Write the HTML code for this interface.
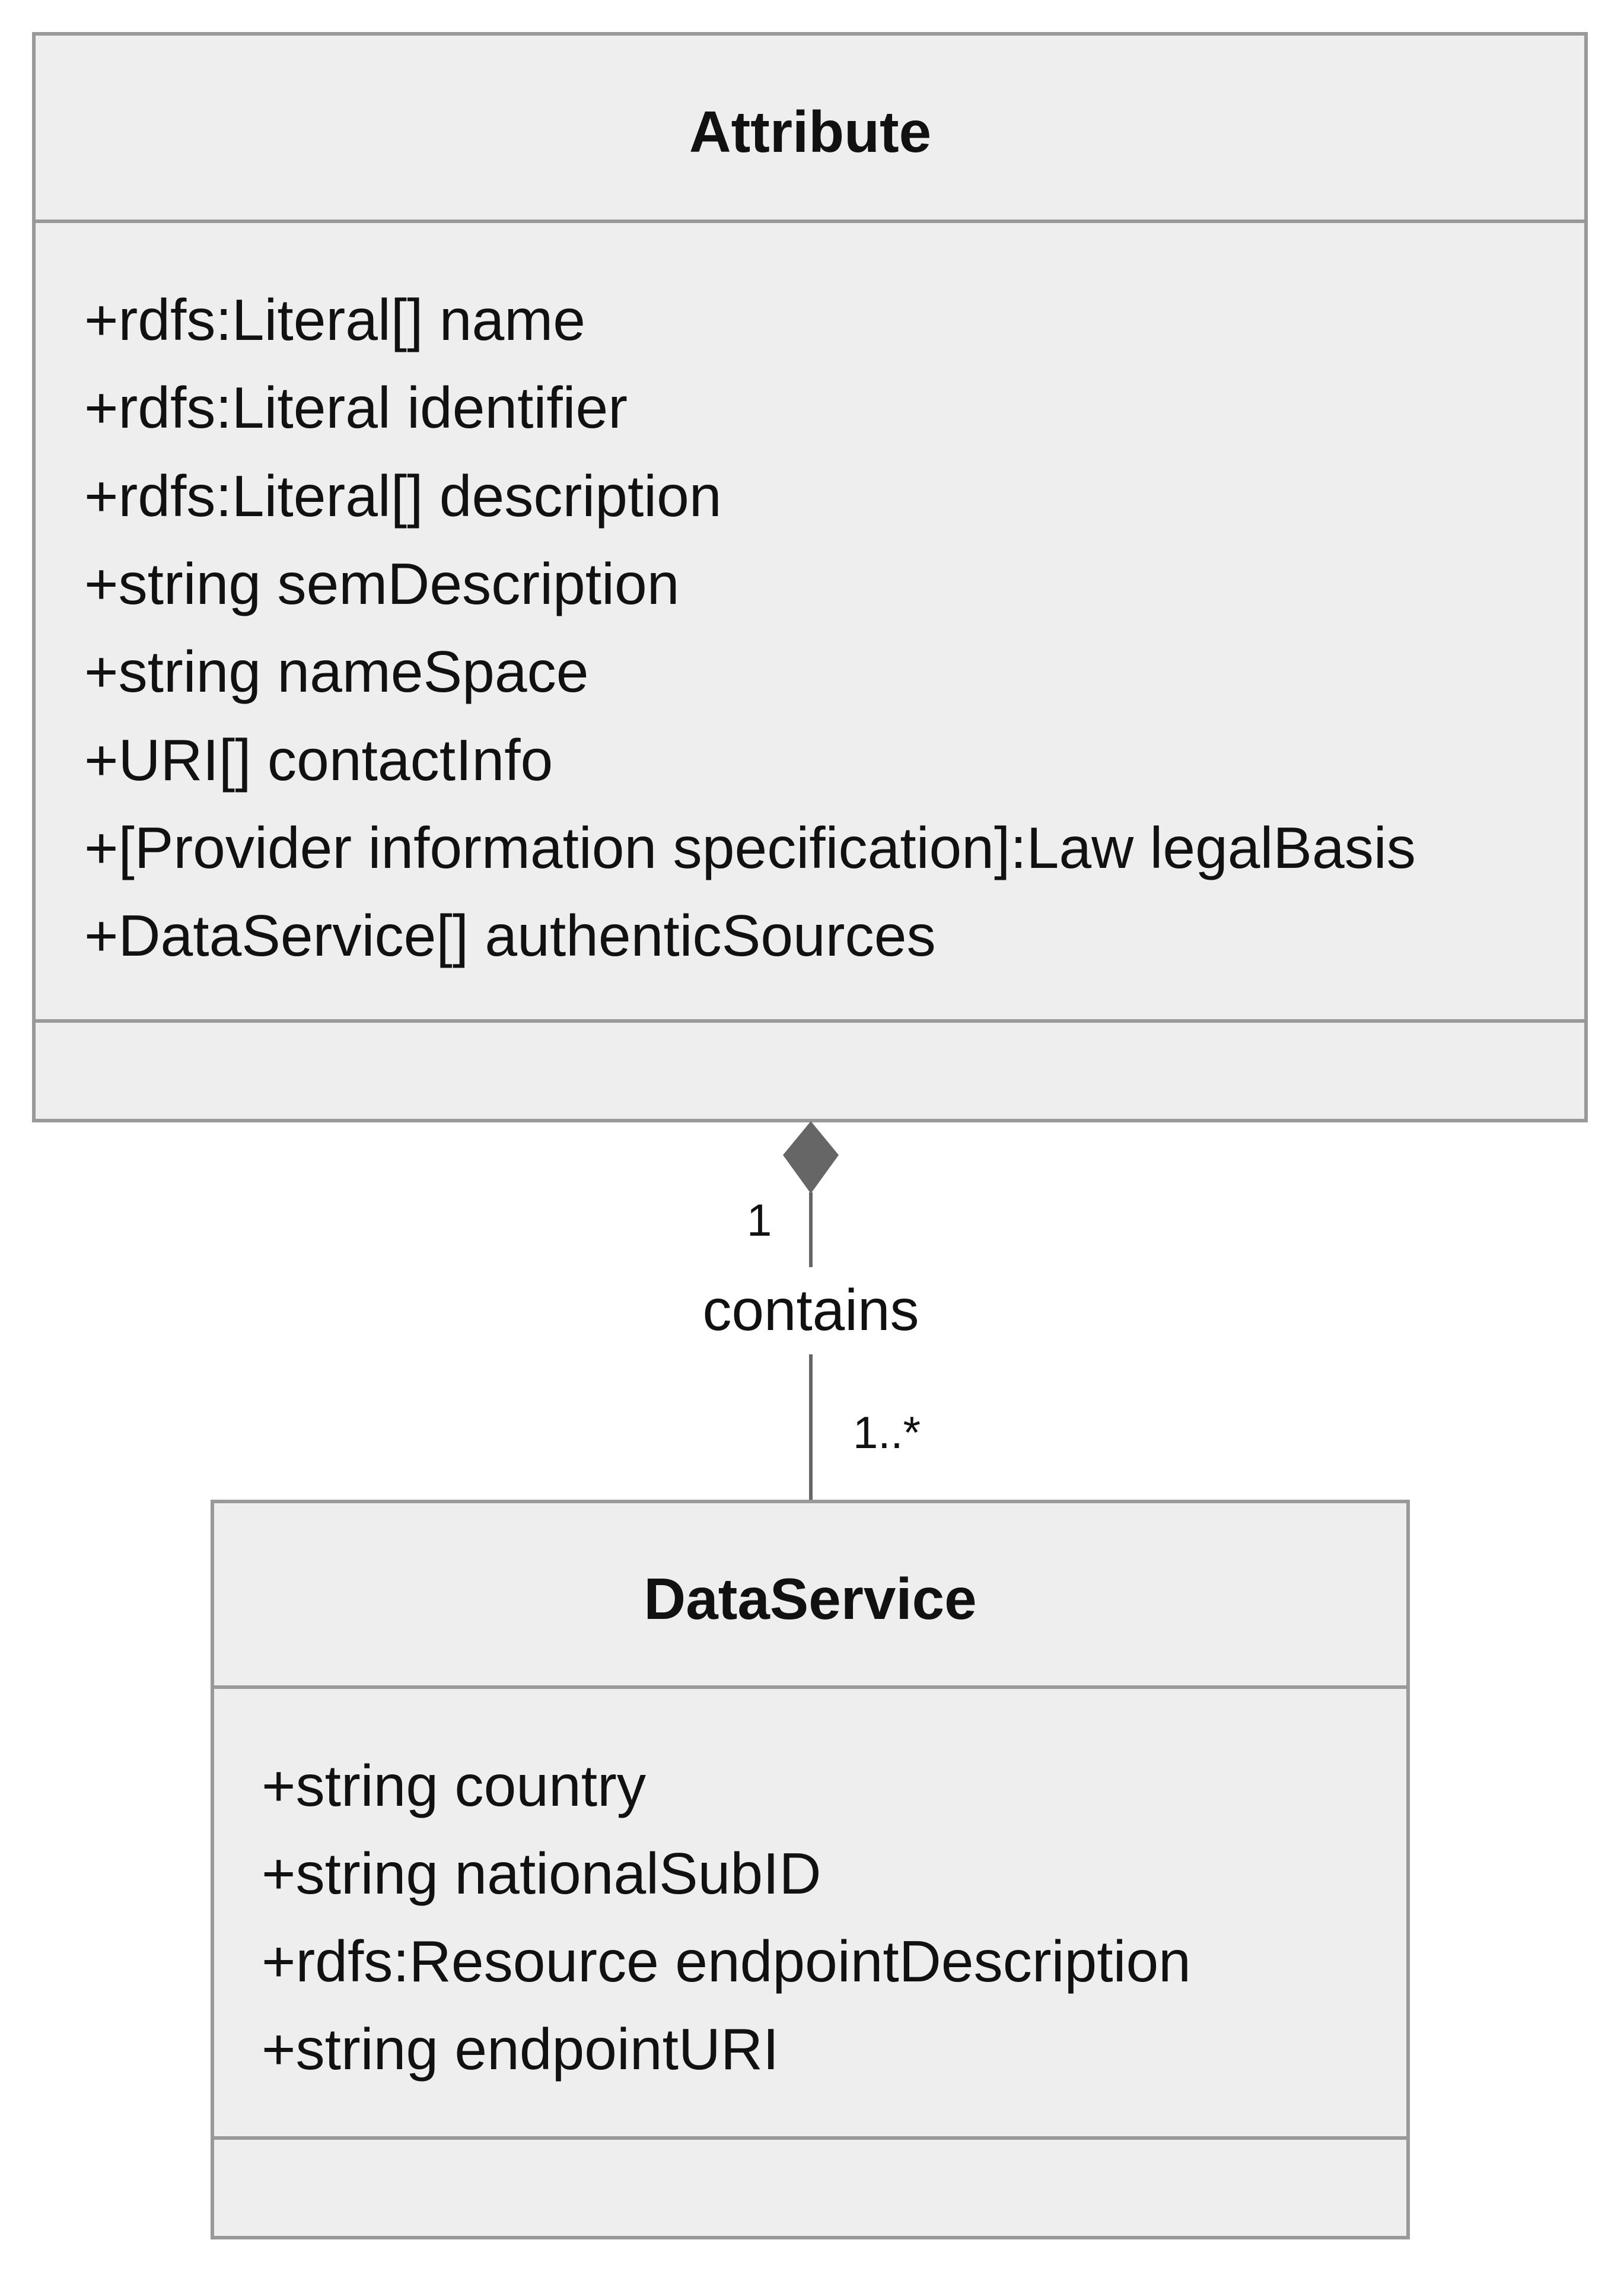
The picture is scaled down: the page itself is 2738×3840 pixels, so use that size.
<!DOCTYPE html>
<html><head><meta charset="utf-8"><style>
html,body{margin:0;padding:0;background:#fff;}
svg{display:block;}
text{font-family:"Liberation Sans",Arial,sans-serif;fill:#111;}
</style></head><body>
<svg width="2738" height="3840" viewBox="0 0 2738 3840" xmlns="http://www.w3.org/2000/svg">
<!-- Attribute box -->
<rect x="57" y="57" width="2617" height="1832" fill="#eeeeee" stroke="#999999" stroke-width="6"/>
<line x1="57" y1="373" x2="2674" y2="373" stroke="#999999" stroke-width="6"/>
<line x1="57" y1="1721" x2="2674" y2="1721" stroke="#999999" stroke-width="6"/>
<text x="1366" y="256" font-size="98" font-weight="bold" text-anchor="middle">Attribute</text>
<g font-size="98.4">
<text x="142" y="573">+rdfs:Literal[] name</text>
<text x="142" y="721">+rdfs:Literal identifier</text>
<text x="142" y="870">+rdfs:Literal[] description</text>
<text x="142" y="1018">+string semDescription</text>
<text x="142" y="1166">+string nameSpace</text>
<text x="142" y="1315">+URI[] contactInfo</text>
<text x="142" y="1463">+[Provider information specification]:Law legalBasis</text>
<text x="142" y="1611">+DataService[] authenticSources</text>
</g>
<!-- connector -->
<polygon points="1367,1890 1414,1947 1367,2012 1320,1947" fill="#666666"/>
<line x1="1367" y1="2010" x2="1367" y2="2136" stroke="#666666" stroke-width="6"/>
<line x1="1367" y1="2283" x2="1367" y2="2530" stroke="#666666" stroke-width="6"/>
<text x="1367" y="2242" font-size="98" text-anchor="middle">contains</text>
<text x="1259" y="2083" font-size="76">1</text>
<text x="1438" y="2441" font-size="76">1..*</text>
<!-- DataService box -->
<rect x="358" y="2531" width="2016" height="1241" fill="#eeeeee" stroke="#999999" stroke-width="6"/>
<line x1="358" y1="2844" x2="2374" y2="2844" stroke="#999999" stroke-width="6"/>
<line x1="358" y1="3604" x2="2374" y2="3604" stroke="#999999" stroke-width="6"/>
<text x="1366" y="2729" font-size="98" font-weight="bold" text-anchor="middle">DataService</text>
<g font-size="98.4">
<text x="441" y="3044">+string country</text>
<text x="441" y="3192">+string nationalSubID</text>
<text x="441" y="3340">+rdfs:Resource endpointDescription</text>
<text x="441" y="3488">+string endpointURI</text>
</g>
</svg>
</body></html>
